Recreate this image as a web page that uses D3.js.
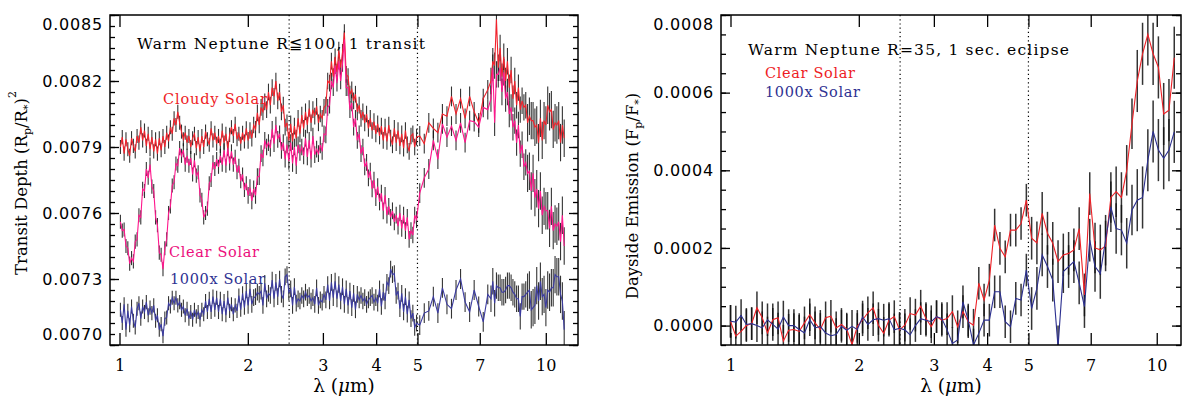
<!DOCTYPE html>
<html>
<head>
<meta charset="utf-8">
<script src="https://cdn.jsdelivr.net/npm/d3@7"></script>
<style>
  body { margin: 0; background: #fff; }
  svg { display: block; }
</style>
</head>
<body>
<div id="chart"></div>
<script>
// ---- data ----
// wavelength binning: [from µm, to µm, number of bins]
const transitBins = [[1.0, 5.0, 161], [5.0, 7.4, 16], [7.4, 11.1, 41]];
const eclipseBins = [[0.986, 11.15, 85]];

// transit depth, ppm
const transitCloudy = [
  7900, 7945, 7870, 7935, 7890, 7860, 7940, 7905, 7880, 7950,
  7920, 7990, 7930, 7975, 7905, 7960, 7890, 7945, 7880, 7935,
  7870, 7940, 7885, 7950, 7900, 7965, 7925, 7990, 7960, 8030,
  8000, 8060, 8010, 7970, 7935, 7965, 7920, 7950, 7900, 7940,
  7960, 7895, 7945, 7880, 7950, 7900, 7970, 7935, 7910, 7985,
  7930, 7965, 7915, 7950, 7905, 7975, 7920, 7960, 7890, 7955,
  7990, 7950, 8005, 7935, 7960, 7915, 7965, 7925, 7985, 7930,
  7975, 7940, 8000, 7980, 8055, 8000, 8080, 8060, 8105, 8070,
  8150, 8090, 8170, 8130, 8200, 8110, 8150, 8060, 8090, 7990,
  8010, 7930, 8005, 7925, 7995, 7940, 8030, 7960, 8045, 7985,
  8060, 8000, 8075, 8010, 8070, 8040, 8085, 8010, 8050, 8030,
  8080, 8090, 8200, 8190, 8290, 8220, 8310, 8240, 8340, 8260,
  8330, 8420, 8230, 8220, 8140, 8160, 8110, 8140, 8060, 8090,
  8030, 8060, 8010, 8050, 7985, 8030, 7975, 8015, 7960, 8005,
  7950, 7995, 7930, 7990, 7925, 8000, 7940, 7910, 7985, 7920,
  7975, 7905, 7960, 7895, 7975, 7910, 7880, 7950, 7960, 7900, 7945,
  7950, 7915, 8010, 7985, 7965, 8050, 8040, 8130, 8050, 8120, 8030, 8130, 8060, 8010, 8120, 8160,
  8200, 8290, 8270, 8480, 8260, 8350, 8220, 8310, 8200, 8290,
  8170, 8250, 8120, 8200, 8090, 8170, 8070, 8110, 8080, 8090,
  8010, 8040, 8020, 8020, 7990, 8000, 7920, 8030, 7930, 8020,
  8000, 8090, 8060, 8070, 7980, 8010, 8000, 8020, 7920, 8000, 7940
];
const transitClear = [
  7560, 7520, 7525, 7450, 7440, 7370, 7395, 7380, 7470, 7480,
  7590, 7580, 7710, 7700, 7800, 7760, 7820, 7720, 7700, 7580,
  7545, 7420, 7410, 7345, 7440, 7480, 7600, 7630, 7725, 7740,
  7825, 7815, 7895, 7860, 7885, 7820, 7860, 7815, 7850, 7775,
  7840, 7770, 7785, 7680, 7660, 7580, 7600, 7620, 7735, 7750,
  7830, 7800, 7845, 7810, 7860, 7820, 7885, 7815, 7895, 7825,
  7880, 7820, 7855, 7785, 7815, 7745, 7775, 7705, 7735, 7680,
  7715, 7655, 7710, 7680, 7765, 7765, 7870, 7850, 7930, 7900,
  7920, 7895, 7980, 7915, 8000, 7935, 7960, 7885, 7920, 7845,
  7910, 7835, 7920, 7825, 7900, 7815, 7910, 7875, 7900, 7860,
  7940, 7855, 7930, 7845, 7950, 7865, 7890, 7870, 7910, 7880,
  7960, 7955, 8080, 8090, 8200, 8170, 8270, 8190, 8290, 8200,
  8280, 8390, 8170, 8170, 8070, 8100, 7990, 8030, 7930, 7960,
  7870, 7900, 7810, 7830, 7760, 7790, 7710, 7750, 7670, 7720,
  7650, 7690, 7610, 7680, 7590, 7630, 7580, 7610, 7560, 7590,
  7540, 7600, 7530, 7590, 7520, 7580, 7480, 7520, 7500, 7590, 7570,
  7690, 7760, 7800, 7930, 7845, 8005, 7945, 7995, 7930, 8010, 7920, 8020, 8015, 7990, 8080, 8070,
  8120, 8260, 8010, 8230, 8230, 8260, 8150, 8240, 8120, 8150,
  8050, 8080, 7990, 8020, 7920, 8000, 7870, 7910, 7810, 7830,
  7780, 7790, 7700, 7780, 7670, 7710, 7620, 7700, 7590, 7630,
  7610, 7610, 7530, 7630, 7520, 7550, 7540, 7560, 7470, 7590, 7450
];
const transit1000x = [
  7160, 7100, 7185, 7070, 7155, 7090, 7175, 7110, 7080, 7165,
  7190, 7120, 7175, 7150, 7195, 7135, 7170, 7145, 7180, 7110,
  7135, 7070, 7095, 7040, 7120, 7125, 7190, 7175, 7215, 7190,
  7215, 7180, 7195, 7160, 7175, 7135, 7165, 7120, 7150, 7115,
  7160, 7130, 7150, 7115, 7160, 7140, 7200, 7150, 7210, 7150,
  7220, 7160, 7215, 7150, 7210, 7140, 7200, 7135, 7215, 7155,
  7185, 7140, 7180, 7155, 7225, 7160, 7235, 7170, 7245, 7180,
  7255, 7185, 7215, 7220, 7240, 7230, 7245, 7180, 7280, 7210,
  7235, 7225, 7295, 7210, 7285, 7220, 7300, 7230, 7210, 7310,
  7320, 7240, 7255, 7180, 7265, 7190, 7210, 7200, 7225, 7210,
  7240, 7215, 7225, 7200, 7215, 7185, 7260, 7180, 7205, 7195,
  7230, 7205, 7275, 7200, 7285, 7215, 7290, 7210, 7275, 7200,
  7265, 7185, 7255, 7180, 7245, 7170, 7235, 7160, 7230, 7205,
  7225, 7200, 7215, 7185, 7205, 7215, 7225, 7195, 7215, 7190,
  7255, 7175, 7240, 7200, 7285, 7270, 7345, 7320, 7325, 7225,
  7245, 7165, 7235, 7150, 7220, 7140, 7205, 7120, 7145, 7080, 7100,
  7090, 7145, 7155, 7220, 7145, 7260, 7185, 7165, 7250, 7300, 7195, 7150, 7250, 7175, 7105, 7230,
  7210, 7290, 7190, 7270, 7260, 7260, 7240, 7240, 7250, 7270,
  7270, 7260, 7240, 7230, 7210, 7210, 7130, 7220, 7220, 7230,
  7240, 7250, 7160, 7170, 7180, 7270, 7200, 7290, 7220, 7230,
  7170, 7250, 7240, 7260, 7260, 7320, 7310, 7310, 7230, 7200, 7070
];
// 1-sigma error by wavelength band (upper edges in µm), ppm
const transitErrEdges = [2.0, 5.0, 7.4, 9.0, 12];
const transitErrPpm = [32, 38, 45, 60, 85];

// dayside emission, ppm
const eclipseClear = [
  11, -27, -15, 0, 5, 46, 20, -19, 15, 20, -40, -12, -10, -15, 7, 28, 7, -10, 20, 24,
  -6, 3, -9, -49, -2, 15, 33, 46, 1, -20, 14, 23, -11, 1, 31, 27, 50, 18, -3, 23,
  14, 18, 36, -3, 36, 10, 1, 109, 66, 117, 259, 199, 177, 246, 246, 263, 323, 225, 213, 289,
  238, 212, 165, 182, 186, 195, 250, 79, 340, 200, 195, 205, 330, 345, 330, 400, 520, 630, 700, 750,
  700, 665, 545, 555, 690
];
const eclipse1000x = [
  11, 9, 26, 3, 5, 0, -6, 15, 3, -9, 22, 0, 0, -10, -19, 15, -6, -2, -19, -26,
  -23, -2, -12, -2, -10, 22, 3, 15, 18, 14, 18, -11, -7, -11, -24, 0, 18, 14, 10, 23,
  18, -11, -46, -37, 61, 14, -50, -20, 14, 14, 87, 87, 10, -3, 70, 66, 143, 44, 96, 182,
  152, 117, -55, 139, 152, 165, 110, 49, 220, 152, 134, 220, 306, 250, 246, 212, 298, 323, 330, 426,
  500, 452, 431, 452, 499
];
const eclipseErrEdges = [5.0, 7.0, 9.0, 12];
const eclipseErrPpm = [42, 55, 65, 80];

const xTickValues = [1, 2, 3, 4, 5, 7, 10];
const guideWavelengths = [2.5, 5];
const transitTicks = [7000, 7300, 7600, 7900, 8200, 8500];
const eclipseTicks = [0, 200, 400, 600, 800];

// ---- drawing ----
const SERIF = "'DejaVu Serif', 'Liberation Serif', serif";
const SANS = "'DejaVu Sans', 'Liberation Sans', sans-serif";

function binCenters(bins) {
  const out = [];
  bins.forEach(([lo, hi, n]) => {
    for (let k = 0; k < n; k++) out.push(lo * Math.pow(hi / lo, (k + 0.5) / n));
  });
  return out;
}

function bandLookup(edges, values) {
  return (lam) => values[Math.min(d3.bisectLeft(edges, lam), values.length - 1)];
}

class SpectrumPanel {
  constructor(opts) {
    Object.assign(this, opts);
    this.init();
  }

  init() {
    const { left, right, top, bottom } = this.box;
    this.x = d3.scaleLog().domain(this.xDomain).range([left, right]);
    this.y = d3.scaleLinear().domain(this.yDomain).range([bottom, top]);
    this.err = bandLookup(this.errEdges, this.errValues);

    this.g = this.svg.append("g");
    this.g
      .append("clipPath")
      .attr("id", `clip-${this.name}`)
      .append("rect")
      .attr("x", left)
      .attr("y", top)
      .attr("width", right - left)
      .attr("height", bottom - top);
    this.gPlot = this.g.append("g").attr("clip-path", `url(#clip-${this.name})`);
    this.gAxes = this.g.append("g");
    this.gText = this.g.append("g");

    this.displayData = this.series.map((s) => ({
      ...s,
      points: s.values.map((v, i) => ({ lam: this.wavelengths[i], v })),
    }));
    this.render();
  }

  render() {
    this.renderGuides();
    this.renderErrorBars();
    this.renderLines();
    this.renderAxes();
    this.renderText();
  }

  renderGuides() {
    const { top, bottom } = this.box;
    this.gPlot
      .selectAll(".guide")
      .data(guideWavelengths)
      .join("line")
      .attr("class", "guide")
      .attr("x1", (d) => this.x(d))
      .attr("x2", (d) => this.x(d))
      .attr("y1", top)
      .attr("y2", bottom)
      .attr("stroke", "#000")
      .attr("stroke-width", 1.2)
      .attr("stroke-dasharray", "1.2,3");
  }

  renderErrorBars() {
    this.gPlot
      .selectAll(".errs")
      .data(this.displayData)
      .join("g")
      .attr("class", "errs")
      .selectAll("line")
      .data((d) => d.points)
      .join("line")
      .attr("x1", (d) => this.x(d.lam))
      .attr("x2", (d) => this.x(d.lam))
      .attr("y1", (d) => this.y(d.v - this.err(d.lam)))
      .attr("y2", (d) => this.y(d.v + this.err(d.lam)))
      .attr("stroke", "#111")
      .attr("stroke-opacity", this.errOpacity)
      .attr("stroke-width", this.errWidth);
  }

  renderLines() {
    const line = d3
      .line()
      .x((d) => this.x(d.lam))
      .y((d) => this.y(d.v));
    this.gPlot
      .selectAll(".series")
      .data(this.displayData)
      .join("path")
      .attr("class", "series")
      .attr("fill", "none")
      .attr("stroke", (d) => d.color)
      .attr("stroke-width", 1.1)
      .attr("d", (d) => line(d.points));
  }

  renderAxes() {
    const { left, right, top, bottom } = this.box;
    const [y0, y1] = this.yDomain;
    const minor = d3.range(Math.ceil(y0 / 50) * 50, y1 + 1, 50);
    const fmt = d3.format(".4f");

    const style = (g) => {
      g.select(".domain").remove();
      g.selectAll(".tick line").attr("stroke", "#000").attr("stroke-width", 1.3);
    };

    this.gAxes
      .append("g")
      .attr("transform", `translate(0,${bottom})`)
      .call(d3.axisBottom(this.x).tickValues(xTickValues).tickFormat(d3.format("d")).tickSize(-12).tickPadding(15))
      .call(style)
      .call((g) => g.selectAll("text").attr("font-family", SERIF).attr("font-size", 16).attr("fill", "#000"));
    this.gAxes
      .append("g")
      .attr("transform", `translate(0,${top})`)
      .call(d3.axisTop(this.x).tickValues(xTickValues).tickFormat("").tickSize(-12))
      .call(style);

    this.gAxes
      .append("g")
      .attr("transform", `translate(${left},0)`)
      .call(d3.axisLeft(this.y).tickValues(minor).tickFormat("").tickSize(-5))
      .call(style);
    this.gAxes
      .append("g")
      .attr("transform", `translate(${right},0)`)
      .call(d3.axisRight(this.y).tickValues(minor).tickFormat("").tickSize(-5))
      .call(style);
    this.gAxes
      .append("g")
      .attr("transform", `translate(${right},0)`)
      .call(d3.axisRight(this.y).tickValues(this.yTicks).tickFormat("").tickSize(-9))
      .call(style);
    this.gAxes
      .append("g")
      .attr("transform", `translate(${left},0)`)
      .call(d3.axisLeft(this.y).tickValues(this.yTicks).tickFormat((d) => fmt(d / 1e6)).tickSize(-9).tickPadding(7))
      .call(style)
      .call((g) =>
        g
          .selectAll("text")
          .attr("font-family", SANS)
          .attr("font-size", 16)
          .attr("letter-spacing", 0.8)
          .attr("fill", "#000")
          .attr("y", (d) => {
            const py = this.y(d);
            return Math.min(Math.max(py, top + 9), bottom - 11) - py;
          })
      );

    this.gAxes
      .append("rect")
      .attr("x", left)
      .attr("y", top)
      .attr("width", right - left)
      .attr("height", bottom - top)
      .attr("fill", "none")
      .attr("stroke", "#000")
      .attr("stroke-width", 1.5);
  }

  renderText() {
    const { left, right } = this.box;
    const t = this.gText;

    t.append("text")
      .attr("x", left + 27)
      .attr("y", this.titleY)
      .attr("font-family", SERIF)
      .attr("font-size", 15.5)
      .attr("textLength", this.titleWidth)
      .text(this.title);

    this.displayData.forEach((s) => {
      t.append("text")
        .attr("x", s.labelAt[0])
        .attr("y", s.labelAt[1])
        .attr("font-family", SERIF)
        .attr("font-size", 14.5)
        .attr("fill", s.textColor)
        .attr("textLength", s.labelWidth)
        .text(s.name);
    });

    const xl = t
      .append("text")
      .attr("x", (left + right) / 2)
      .attr("y", 392)
      .attr("text-anchor", "middle")
      .attr("font-family", SERIF)
      .attr("font-size", 18.5);
    xl.append("tspan").text("λ (");
    xl.append("tspan").attr("font-style", "italic").text("μ");
    xl.append("tspan").text("m)");

    const yl = t
      .append("text")
      .attr("transform", `translate(${this.yTitleAt[0]},${this.yTitleAt[1]}) rotate(-90)`)
      .attr("text-anchor", "middle")
      .attr("font-family", SERIF)
      .attr("font-size", 16.5);
    this.yTitle.forEach(([str, kind]) => {
      const span = yl.append("tspan").text(str);
      if (kind === "sub") span.attr("font-size", 11).attr("dy", 4);
      if (kind === "back") span.attr("dy", -4);
      if (kind === "sup") span.attr("font-size", 11).attr("dy", -11);
    });
  }
}

const svg = d3
  .select("#chart")
  .append("svg")
  .attr("width", 1183)
  .attr("height", 399)
  .attr("viewBox", [0, 0, 1183, 399]);

new SpectrumPanel({
  name: "transit",
  svg,
  box: { left: 110, right: 578, top: 15, bottom: 345 },
  xDomain: [0.95, 11.9],
  yDomain: [7000, 8500],
  yTicks: transitTicks,
  wavelengths: binCenters(transitBins),
  errEdges: transitErrEdges,
  errValues: transitErrPpm,
  errOpacity: 0.85,
  errWidth: 1.1,
  title: "Warm Neptune R≦100, 1 transit",
  titleY: 49,
  titleWidth: 288,
  yTitleAt: [27, 183],
  yTitle: [["Transit Depth (R"], ["p", "sub"], ["/R", "back"], ["*", "sub"], [")", "back"], ["2", "sup"]],
  series: [
    { name: "Cloudy Solar", values: transitCloudy, color: "#f2222c", textColor: "#ee1c25", labelAt: [163, 104], labelWidth: 104 },
    { name: "Clear Solar", values: transitClear, color: "#ff168c", textColor: "#ec0f7c", labelAt: [169, 257], labelWidth: 90 },
    { name: "1000x Solar", values: transit1000x, color: "#3b3ba0", textColor: "#2e3192", labelAt: [170, 284], labelWidth: 95 },
  ],
});

new SpectrumPanel({
  name: "eclipse",
  svg,
  box: { left: 721, right: 1181, top: 15, bottom: 345 },
  xDomain: [0.95, 11.4],
  yDomain: [-50, 800],
  yTicks: eclipseTicks,
  wavelengths: binCenters(eclipseBins),
  errEdges: eclipseErrEdges,
  errValues: eclipseErrPpm,
  errOpacity: 0.85,
  errWidth: 1.5,
  title: "Warm Neptune R=35, 1 sec. eclipse",
  titleY: 55,
  titleWidth: 321,
  yTitleAt: [638, 196],
  yTitle: [["Dayside Emission (F"], ["p", "sub"], ["/F", "back"], ["*", "sub"], [")", "back"]],
  series: [
    { name: "Clear Solar", values: eclipseClear, color: "#ee2026", textColor: "#ee1c25", labelAt: [765, 78], labelWidth: 90 },
    { name: "1000x Solar", values: eclipse1000x, color: "#2b2f8f", textColor: "#2e3192", labelAt: [765, 97], labelWidth: 95 },
  ],
});
</script>
</body>
</html>
